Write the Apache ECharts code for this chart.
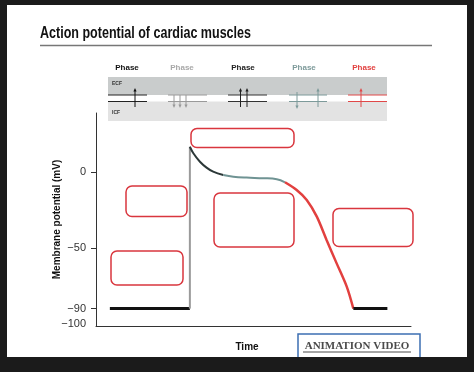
<!DOCTYPE html>
<html><head><meta charset="utf-8">
<script src="https://cdn.jsdelivr.net/npm/echarts@6/dist/echarts.min.js"></script>
<style>html,body{margin:0;padding:0;background:#1b1b1b}#c{width:474px;height:372px}</style>
</head><body><div id="c"></div>
<script>
// ---- data ----
const titleText = 'Action potential of cardiac muscles';
const yAxisName = 'Membrane potential (mV)';
const xAxisName = 'Time';
const yTickLabels = [0, -50, -90, -100];
const yTickMarks = [0, -50, -90];
const phaseLabels = ['Phase', 'Phase', 'Phase', 'Phase', 'Phase'];
const phaseColors = ['#111111', '#a8a8a8', '#222222', '#7d9a9a', '#e2403f'];
// curve segments: [time, mV]
const phase4Start = [[4.4, -90], [29.8, -90]];
const phase0 = [[29.8, -90], [29.8, 17]];
const phase1 = [[29.8, 17], [30.9, 12.7], [33.0, 7.1], [35.1, 3.2], [37.2, 0.5], [40.4, -1.7]];
const phase2 = [[40.4, -1.7], [43.6, -2.8], [47.8, -3.4], [53.1, -3.8], [57.4, -4.5], [60.0, -6.5]];
const phase3 = [[60.0, -6.5], [63.7, -11.6], [66.9, -18.2], [70.1, -29.2], [73.2, -44.6], [76.4, -60.1], [79.6, -75.5], [81.7, -90]];
const phase4End = [[81.7, -90], [92.5, -90]];
const linkText = 'ANIMATION VIDEO';

// ---- title width fit ----
const titleFont = 'bold 17px "Liberation Sans", Arial, sans-serif';
const mctx = document.createElement('canvas').getContext('2d');
mctx.font = titleFont;
const titleScale = 211 / mctx.measureText(titleText).width;

// ---- decoration ----
const g = [];
g.push({type: 'rect', z: 0, shape: {x: 7, y: 5, width: 460, height: 352}, style: {fill: '#ffffff'}});
g.push({type: 'text', z: 10, x: 40, y: 42, scaleX: titleScale, style: {x: 0, y: 0, text: titleText, fill: '#111', font: titleFont, textVerticalAlign: 'bottom'}});
g.push({type: 'line', z: 10, shape: {x1: 40, y1: 45.5, x2: 432, y2: 45.5}, style: {stroke: '#777', lineWidth: 1.5}});
// phase header
const phaseX = [127, 182, 243, 304, 364];
phaseLabels.forEach((p, i) => {
  g.push({type: 'text', z: 10, style: {x: phaseX[i], y: 68, text: p, fill: phaseColors[i], font: 'bold 8px "Liberation Sans", sans-serif', textAlign: 'center', textVerticalAlign: 'middle'}});
});
g.push({type: 'rect', z: 5, shape: {x: 108, y: 77, width: 279, height: 18}, style: {fill: '#c9cccc'}});
g.push({type: 'rect', z: 5, shape: {x: 108, y: 101.5, width: 279, height: 19.5}, style: {fill: '#e3e3e3'}});
g.push({type: 'text', z: 10, style: {x: 112, y: 84, text: 'ECF', fill: '#333', font: 'bold 5px "Liberation Sans", sans-serif', textVerticalAlign: 'middle'}});
g.push({type: 'text', z: 10, style: {x: 112, y: 113, text: 'ICF', fill: '#333', font: 'bold 5px "Liberation Sans", sans-serif', textVerticalAlign: 'middle'}});
const segX = [[108, 147], [168, 207], [228, 267], [289, 327], [348, 387]];
const segCol = ['#222', '#9a9a9a', '#333', '#7d9a9a', '#e04848'];
segX.forEach((s, i) => {
  [95, 101.5].forEach(yy => g.push({type: 'line', z: 11, shape: {x1: s[0], y1: yy, x2: s[1], y2: yy}, style: {stroke: segCol[i], lineWidth: 1}}));
});
function arrow(x, yFrom, yTo, col) {
  const dir = yTo < yFrom ? -1 : 1;
  g.push({type: 'line', z: 12, shape: {x1: x, y1: yFrom, x2: x, y2: yTo - dir * 2}, style: {stroke: col, lineWidth: 1}});
  g.push({type: 'polygon', z: 12, shape: {points: [[x - 1.6, yTo - dir * 3.5], [x + 1.6, yTo - dir * 3.5], [x, yTo]]}, style: {fill: col}});
}
arrow(135, 107, 88, '#111');
arrow(174, 95, 108, '#9a9a9a'); arrow(180, 95, 108, '#9a9a9a'); arrow(186, 95, 108, '#9a9a9a');
arrow(240.5, 107, 88, '#222'); arrow(247, 107, 88, '#222');
arrow(297, 92, 109, '#7d9a9a'); arrow(318, 107, 88, '#7d9a9a');
arrow(361, 107, 88, '#e04848');
// annotation boxes
const boxes = [[191, 128.5, 103, 19], [126, 186, 61, 30.5], [111, 251, 72, 34], [214, 193, 80, 54], [333, 208.5, 80, 38]];
boxes.forEach(b => g.push({type: 'rect', z: 20, shape: {x: b[0], y: b[1], width: b[2], height: b[3], r: 6}, style: {fill: '#fff', stroke: '#d9363e', lineWidth: 1.5}}));
// animation link box
g.push({type: 'rect', z: 20, shape: {x: 298, y: 334, width: 122, height: 26}, style: {fill: '#fff', stroke: '#3d6fb3', lineWidth: 1.5}});
g.push({type: 'text', z: 21, style: {x: 357, y: 346.5, text: linkText, fill: '#4a4a4a', font: 'bold 11px "Liberation Serif", serif', textAlign: 'center', textVerticalAlign: 'middle'}});
g.push({type: 'line', z: 21, shape: {x1: 303, y1: 352, x2: 411, y2: 352}, style: {stroke: '#4a4a4a', lineWidth: 1}});
g.push({type: 'rect', z: 30, shape: {x: 0, y: 357, width: 474, height: 15}, style: {fill: '#1b1b1b'}});

function seg(data, color, width, smooth) {
  return {type: 'line', data: data, showSymbol: false, symbol: 'none', smooth: smooth || false, z: 25,
    lineStyle: {color: color, width: width}, silent: true, animation: false};
}

const chart = echarts.init(document.getElementById('c'), null, {renderer: 'canvas'});
chart.setOption({
  animation: false,
  backgroundColor: '#1b1b1b',
  graphic: g,
  grid: {left: 96, right: 63, top: 113, bottom: 46},
  xAxis: {type: 'value', min: 0, max: 100, name: xAxisName, nameLocation: 'middle', nameGap: 16, nameMoveOverlap: false,
    nameTextStyle: {fontSize: 10, fontWeight: 'bold', color: '#111', fontFamily: 'Liberation Sans', padding: [0, 13, 0, 0]},
    axisLine: {onZero: false, lineStyle: {color: '#333', width: 1}}, axisTick: {show: false}, axisLabel: {show: false}, splitLine: {show: false}},
  yAxis: {type: 'value', min: -101.5, max: 39.3, name: yAxisName, nameLocation: 'middle', nameGap: 34, nameMoveOverlap: false,
    nameTextStyle: {fontSize: 10, fontWeight: 'bold', color: '#111', fontFamily: 'Liberation Sans'},
    axisLine: {show: true, onZero: false, lineStyle: {color: '#333', width: 1}},
    axisTick: {show: true, length: 5, customValues: yTickMarks, lineStyle: {color: '#333'}},
    axisLabel: {customValues: yTickLabels, margin: 10, fontSize: 11, color: '#333', fontFamily: 'Liberation Sans',
      formatter: v => String(v).replace('-', '\u2212')},
    splitLine: {show: false}},
  series: [
    seg(phase4Start, '#111', 3),
    seg(phase0, '#9a9a9a', 2),
    seg(phase1, '#2c3838', 2, 0.4),
    seg(phase2, '#6f9393', 2, 0.4),
    seg(phase3, '#e2403f', 2.5, 0.3),
    seg(phase4End, '#111', 3)
  ]
});
</script></body></html>
